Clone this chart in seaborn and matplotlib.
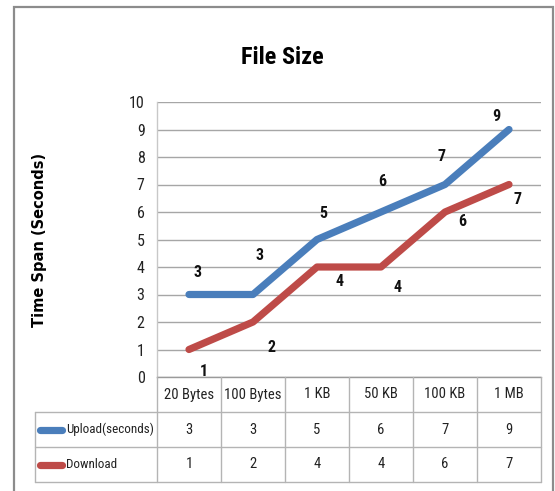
import numpy as np
import pandas as pd
import matplotlib
matplotlib.use("Agg")
import matplotlib.pyplot as plt
from matplotlib import font_manager as fm
from matplotlib.lines import Line2D
import seaborn as sns

# ---- data -------------------------------------------------------------
categories = ["20 Bytes", "100 Bytes", "1 KB", "50 KB", "100 KB", "1 MB"]
upload = [3, 3, 5, 6, 7, 9]
download = [1, 2, 4, 4, 6, 7]
series_names = ["Upload(seconds)", "Download"]
y_ticks = list(range(0, 11))

# ---- styling ----------------------------------------------------------
colors = {"Upload(seconds)": "#4A7EBB", "Download": "#BE4B48"}
# value-label offsets in pixels (dx, dy), y pointing up
label_offsets = {
    "Upload(seconds)": [(9, 22), (6, 39), (6, 26), (1, 30), (-4, 28), (-13, 13)],
    "Download": [(15, -22), (19, -25), (22, -15), (16, -20), (17, -10), (9, -15)],
}

sns.set_theme(style="white")

available = {f.name for f in fm.fontManager.ttflist}
has_dejavu_cond = any(f.name == "DejaVu Sans" and f.stretch == "condensed"
                      for f in fm.fontManager.ttflist)
if "Liberation Sans Narrow" in available:
    NARROW = dict(family="Liberation Sans Narrow")
elif "Roboto Condensed" in available:
    NARROW = dict(family="Roboto Condensed")
elif has_dejavu_cond:
    NARROW = dict(family="DejaVu Sans", stretch="condensed")
else:
    NARROW = dict(family="Roboto")
plt.rcParams["font.family"] = ["DejaVu Sans"]

W, H = 555, 491
fig = plt.figure(figsize=(W / 100, H / 100), dpi=100)
fig.patch.set_facecolor("white")


def fx(px):
    return px / W


def fy(py):
    return 1 - py / H


# outer chart frame
frame = plt.Rectangle((fx(13.5), fy(500)), fx(553) - fx(13.5), fy(6.5) - fy(500),
                      transform=fig.transFigure, fill=False,
                      edgecolor="#8C8C8C", linewidth=1.6)
fig.add_artist(frame)

# ---- plot area --------------------------------------------------------
PL, PR, PT, PB = 157, 541, 102, 377
ax = fig.add_axes([fx(PL), fy(PB), fx(PR) - fx(PL), fy(PT) - fy(PB)])

n = len(categories)
df = pd.DataFrame({
    "pos": np.tile(np.arange(n), 2),
    "value": upload + download,
    "series": np.repeat(series_names, n),
})
sns.lineplot(data=df, x="pos", y="value", hue="series", palette=colors,
             linewidth=5.2, ax=ax, legend=False, sort=False, zorder=3)
for ln in ax.lines:
    ln.set_solid_capstyle("round")
    ln.set_solid_joinstyle("round")

ax.set_xlim(-0.5, n - 0.5)
ax.set_ylim(0, 10)
ax.set_yticks(y_ticks)
ax.set_xticks([])
ax.set_xlabel("")
ax.set_ylabel("")
ax.yaxis.grid(True, color="#A6A6A6", linewidth=1.0)
ax.set_axisbelow(True)
for side in ("top", "right"):
    ax.spines[side].set_visible(False)
ax.spines["left"].set_color("#C8C8C8")
ax.spines["left"].set_linewidth(1.0)
ax.spines["bottom"].set_color("#9A9A9A")
ax.spines["bottom"].set_linewidth(1.0)
ax.tick_params(axis="y", length=0, pad=9, labelsize=11.5, labelcolor="#222222")
for t in ax.get_yticklabels():
    t.set_fontfamily(NARROW["family"])
    if "stretch" in NARROW:
        t.set_fontstretch(NARROW["stretch"])

# value labels
for name, vals in zip(series_names, [upload, download]):
    for i, v in enumerate(vals):
        dx, dy = label_offsets[name][i]
        ax.annotate(str(v), (i, v), xytext=(dx, dy), textcoords="offset pixels",
                    ha="center", va="center", fontsize=11.5, fontweight="bold",
                    color="#111111", **NARROW)

# ---- title & axis label ----------------------------------------------
fig.text(fx(282), fy(58), "File Size", ha="center", va="center",
         fontsize=17.5, fontweight="bold", color="#000000", **NARROW)
fig.text(fx(40), fy(240), "Time Span (Seconds)", rotation=90,
         ha="center", va="center", fontsize=10.5, fontweight="bold",
         color="#000000", family="DejaVu Sans")

# ---- data table -------------------------------------------------------
TL, TB = 35, 482
col_w = (PR - PL) / n
x_left = -0.5 - (PL - TL) / col_w
axt = fig.add_axes([fx(TL), fy(TB), fx(PR) - fx(TL), fy(PB) - fy(TB)])
axt.set_xlim(x_left, n - 0.5)
axt.set_ylim(2.5, -0.5)
axt.axis("off")

grid_c = "#B4B4B4"
for yb in (0.5, 1.5, 2.5):
    axt.plot([x_left, n - 0.5], [yb, yb], color=grid_c, lw=1.0, clip_on=False)
for k in range(n + 1):
    axt.plot([k - 0.5, k - 0.5], [-0.5, 2.5], color=grid_c, lw=1.0, clip_on=False)
axt.plot([x_left, x_left], [0.5, 2.5], color=grid_c, lw=1.0, clip_on=False)

tab_font = dict(fontsize=10.5, color="#222222", **NARROW)
for i, c in enumerate(categories):
    axt.text(i, 0, c, ha="center", va="center", **tab_font)
for r, (name, vals) in enumerate(zip(series_names, [upload, download]), start=1):
    for i, v in enumerate(vals):
        axt.text(i, r, str(v), ha="center", va="center", **tab_font)
    sw0 = x_left + 5 / col_w
    sw1 = x_left + 27 / col_w
    axt.add_line(Line2D([sw0, sw1], [r, r], color=colors[name], lw=5.2,
                        solid_capstyle="round"))
    axt.text(x_left + 31.5 / col_w, r, name, ha="left", va="center",
             fontsize=9.4, color="#222222", **NARROW)

fig.savefig("out.png", dpi=100, facecolor="white")
